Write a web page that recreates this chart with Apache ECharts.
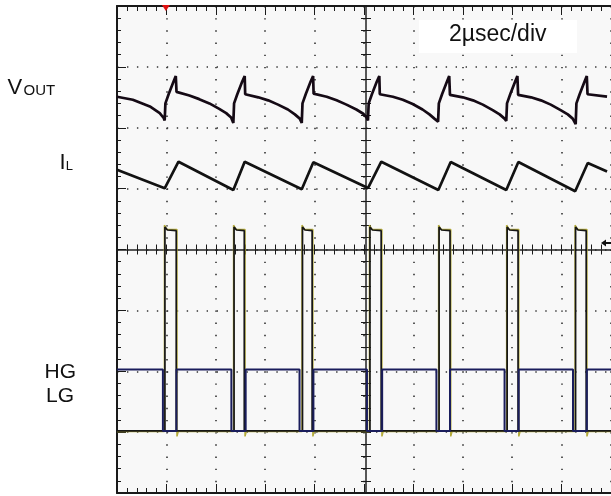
<!DOCTYPE html>
<html>
<head>
<meta charset="utf-8">
<script src="https://cdn.jsdelivr.net/npm/echarts@6/dist/echarts.min.js"></script>
<style>
html,body{margin:0;padding:0;background:#fff;}
#chart{width:611px;height:496px;}
</style>
</head>
<body>
<div id="chart"></div>
<script>
// Time axis in µs (2 µs/div, 10 div), vertical axis in scope divisions (8 div)
const timeDivs = [0, 20];
const ampDivs = [0, 8];
const timeLabel = '2µsec/div';

// VOUT trace [time µs, divisions]
const voutPoints = [
  [0.00,6.51],[0.64,6.46],[1.33,6.35],[1.73,6.24],[1.89,6.16],
  [1.93,6.12],[1.96,6.40],[2.09,6.55],[2.29,6.76],[2.38,6.85],[2.41,6.59],[2.93,6.53],[3.33,6.47],[3.74,6.40],[4.14,6.31],[4.42,6.24],[4.62,6.17],
  [4.71,6.08],[4.74,6.40],[4.87,6.55],[5.07,6.76],[5.17,6.85],[5.19,6.55],[5.72,6.50],[6.12,6.45],[6.52,6.38],[6.92,6.30],[7.20,6.22],[7.40,6.15],
  [7.48,6.08],[7.51,6.40],[7.64,6.55],[7.84,6.76],[7.94,6.85],[7.96,6.56],[8.49,6.51],[8.89,6.45],[9.29,6.38],[9.69,6.30],[9.97,6.23],[10.10,6.17],
  [10.16,6.12],[10.19,6.40],[10.32,6.55],[10.52,6.76],[10.62,6.85],[10.64,6.55],[11.17,6.51],[11.57,6.46],[11.97,6.39],[12.37,6.30],[12.65,6.22],[12.85,6.15],
  [13.00,6.10],[13.03,6.40],[13.16,6.55],[13.36,6.76],[13.45,6.85],[13.48,6.54],[14.00,6.50],[14.41,6.45],[14.81,6.38],[15.21,6.29],[15.49,6.22],[15.69,6.15],
  [15.76,6.11],[15.79,6.40],[15.92,6.55],[16.12,6.76],[16.21,6.85],[16.24,6.54],[16.76,6.50],[17.16,6.45],[17.56,6.38],[17.96,6.29],[18.25,6.22],[18.45,6.15],
  [18.57,6.06],[18.60,6.40],[18.73,6.55],[18.93,6.76],[19.02,6.85],[19.05,6.55],[19.84,6.51]
];

// Inductor current trace
const ilPoints = [
  [0.00,5.31],[1.93,5.005],[2.49,5.442],[4.71,4.977],[5.17,5.442],[7.48,4.989],[7.95,5.432],
  [10.16,5.010],[10.70,5.442],[13.01,4.977],[13.51,5.437],[15.76,4.977],[16.25,5.437],
  [18.55,4.956],[19.06,5.421],[19.84,5.28]
];

// HG: falling / rising edge times and levels
const hgFall = [1.859, 4.631, 7.390, 10.120, 12.932, 15.691, 18.462];
const hgRise = [2.410, 5.209, 7.952, 10.735, 13.482, 16.265, 19.024];
const hgHigh = 2.03;
const hgLow = 1.02;

// LG: pulse rising / falling edge times and levels
const lgRise = [1.940, 4.739, 7.510, 10.241, 13.040, 15.795, 18.566];
const lgFall = [2.398, 5.153, 7.900, 10.695, 13.482, 16.237, 18.996];
const lgBase = 1.02;
const lgTopStart = 4.37;
const lgTop = 4.31;

// Olive channel (overlapping the LG pulses)
const swRise = [1.920, 4.719, 7.490, 10.221, 13.020, 15.775, 18.546];
const swFall = [2.428, 5.183, 7.930, 10.725, 13.512, 16.267, 19.026];
const swBase = 1.01;
const swOvershoot = 4.40;
const swTop = 4.33;
const swUndershoot = 0.93;

const triggerTime = 1.98;

function buildHG() {
  const d = [[timeDivs[0], hgHigh]];
  for (let i = 0; i < hgFall.length; i++) {
    d.push([hgFall[i], hgHigh], [hgFall[i], hgLow], [hgRise[i], hgLow], [hgRise[i], hgHigh]);
  }
  d.push([timeDivs[1], hgHigh]);
  return d;
}
function buildLG() {
  const d = [[timeDivs[0], lgBase]];
  for (let i = 0; i < lgRise.length; i++) {
    d.push([lgRise[i], lgBase], [lgRise[i], lgTopStart], [lgRise[i] + 0.1, lgTop + 0.01],
           [lgFall[i], lgTop], [lgFall[i], lgBase]);
  }
  d.push([timeDivs[1], lgBase]);
  return d;
}
function buildSW() {
  const d = [[timeDivs[0], swBase]];
  for (let i = 0; i < swRise.length; i++) {
    d.push([swRise[i], swBase], [swRise[i], swOvershoot], [swRise[i] + 0.1, swTop],
           [swFall[i], swTop], [swFall[i], swUndershoot], [swFall[i] + 0.05, swBase]);
  }
  d.push([timeDivs[1], swBase]);
  return d;
}

const FONT = '"Liberation Sans", Arial, sans-serif';
const axisColor = '#1a1a1a';

function xAx(extra) {
  return Object.assign({
    type: 'value', min: timeDivs[0], max: timeDivs[1], interval: 2,
    axisLabel: { show: false },
    splitLine: { show: false },
    axisLine: { show: true, onZero: false, lineStyle: { color: axisColor, width: 2 } },
    axisTick: { show: true, inside: true, length: 9, lineStyle: { color: axisColor, width: 1 } },
    minorTick: { show: true, splitNumber: 5, length: 5, lineStyle: { color: axisColor, width: 1 } }
  }, extra);
}
function yAx(extra) {
  return Object.assign({
    type: 'value', min: ampDivs[0], max: ampDivs[1], interval: 1,
    axisLabel: { show: false },
    splitLine: { show: false },
    axisLine: { show: true, onZero: false, lineStyle: { color: axisColor, width: 2 } },
    axisTick: { show: true, inside: true, length: 9, lineStyle: { color: axisColor, width: 1 } },
    minorTick: { show: true, splitNumber: 5, length: 4, lineStyle: { color: axisColor, width: 1 } }
  }, extra);
}

const chart = echarts.init(document.getElementById('chart'), null, { renderer: 'canvas' });
chart.setOption({
  animation: false,
  backgroundColor: '#ffffff',
  grid: { left: 117, top: 6, width: 498, height: 487, show: true, backgroundColor: '#f8f8f8', borderWidth: 0 },
  xAxis: [
    xAx({ position: 'bottom',
          splitLine: { show: true, lineStyle: { color: '#333', width: 1.6, type: [1.4, 10.775] } } }),
    xAx({ position: 'top' }),
    xAx({ position: 'bottom', offset: -243.5,
          axisLine: { show: true, onZero: false, lineStyle: { color: '#222', width: 1.5 } },
          axisTick: { show: true, inside: true, length: 5, lineStyle: { color: axisColor } },
          minorTick: { show: true, splitNumber: 5, length: 5, lineStyle: { color: axisColor } } }),
    xAx({ position: 'bottom', offset: -243.5,
          axisLine: { show: false, onZero: false },
          axisTick: { show: true, inside: false, length: 5, lineStyle: { color: axisColor } },
          minorTick: { show: true, splitNumber: 5, length: 5, lineStyle: { color: axisColor } } })
  ],
  yAxis: [
    yAx({ position: 'left',
          splitLine: { show: true, lineStyle: { color: '#333', width: 1.6, type: [1.4, 8.56] } } }),
    yAx({ position: 'left', offset: -249,
          axisLine: { show: true, onZero: false, lineStyle: { color: '#222', width: 1.5 } },
          axisTick: { show: true, inside: true, length: 5, lineStyle: { color: axisColor } },
          minorTick: { show: true, splitNumber: 5, length: 5, lineStyle: { color: axisColor } } }),
    yAx({ position: 'left', offset: -249,
          axisLine: { show: false, onZero: false },
          axisTick: { show: true, inside: false, length: 5, lineStyle: { color: axisColor } },
          minorTick: { show: true, splitNumber: 5, length: 5, lineStyle: { color: axisColor } } })
  ],
  series: [
    { name: 'SW', type: 'line', data: buildSW(), showSymbol: false, symbol: 'none',
      lineStyle: { color: '#b3aa3a', width: 1.5 }, z: 3 },
    { name: 'LG', type: 'line', data: buildLG(), showSymbol: false, symbol: 'none',
      lineStyle: { color: '#161616', width: 1.7 }, z: 4 },
    { name: 'HG', type: 'line', data: buildHG(), showSymbol: false, symbol: 'none',
      lineStyle: { color: '#1a1d5c', width: 2 }, z: 5 },
    { name: 'IL', type: 'line', data: ilPoints, showSymbol: false, symbol: 'none',
      lineStyle: { color: '#121212', width: 2.7 }, z: 6 },
    { name: 'VOUT', type: 'line', data: voutPoints, showSymbol: false, symbol: 'none',
      lineStyle: { color: '#150a15', width: 2.7 }, z: 7,
      markPoint: {
        symbol: 'triangle', symbolRotate: 180, symbolSize: [8, 6], symbolOffset: [0, 2],
        itemStyle: { color: '#e01010' }, label: { show: false },
        data: [{ coord: [triggerTime, ampDivs[1]] }]
      } }
  ],
  graphic: [
    { type: 'rect', z: 100, shape: { x: 419, y: 20, width: 158, height: 33 }, style: { fill: '#ffffff' } },
    { type: 'text', z: 101, x: 497.7, y: 34.4,
      style: { text: timeLabel, font: '23px ' + FONT, fill: '#111', textAlign: 'center', textVerticalAlign: 'middle' } },
    { type: 'text', z: 101, x: 7.5, y: 87.7,
      style: { text: 'V', font: '22px ' + FONT, fill: '#111', textAlign: 'left', textVerticalAlign: 'middle' } },
    { type: 'text', z: 101, x: 23.5, y: 90.5,
      style: { text: 'OUT', font: '15px ' + FONT, fill: '#111', textAlign: 'left', textVerticalAlign: 'middle' } },
    { type: 'text', z: 101, x: 59.5, y: 163,
      style: { text: 'I', font: '22px ' + FONT, fill: '#111', textAlign: 'left', textVerticalAlign: 'middle' } },
    { type: 'text', z: 101, x: 65.7, y: 166.3,
      style: { text: 'L', font: '13px ' + FONT, fill: '#111', textAlign: 'left', textVerticalAlign: 'middle' } },
    { type: 'text', z: 101, x: 44.5, y: 372.2,
      style: { text: 'HG', font: '21px ' + FONT, fill: '#111', textAlign: 'left', textVerticalAlign: 'middle' } },
    { type: 'text', z: 101, x: 46, y: 396.7,
      style: { text: 'LG', font: '21px ' + FONT, fill: '#111', textAlign: 'left', textVerticalAlign: 'middle' } },
    { type: 'polygon', z: 101, shape: { points: [[601, 243], [606, 239.5], [606, 246.5]] }, style: { fill: '#111' } },
    { type: 'rect', z: 101, shape: { x: 605, y: 242, width: 6, height: 2 }, style: { fill: '#111' } }
  ]
});
</script>
</body>
</html>
